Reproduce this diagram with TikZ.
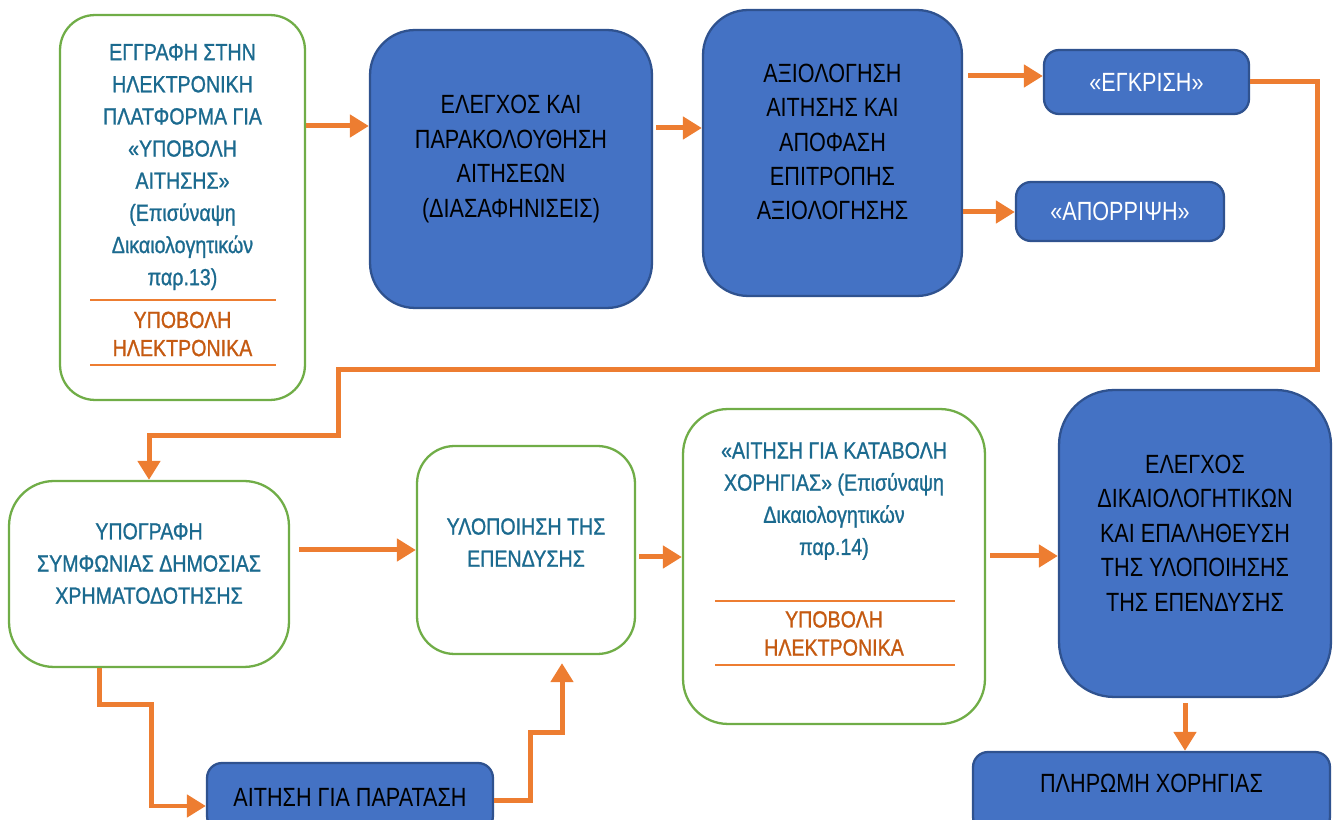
\documentclass[tikz,border=0pt]{standalone}
\usepackage{fontspec}
\setmainfont{Liberation Sans}[FakeStretch=0.82]
\newfontfamily\prasinofont{Liberation Sans}[FakeStretch=0.84, FakeBold=1]
\usetikzlibrary{arrows.meta}

\definecolor{prasino}{HTML}{70AD47}
\definecolor{mple}{HTML}{4472C4}
\definecolor{skouro}{HTML}{2F528F}
\definecolor{portokali}{HTML}{ED7D31}
\definecolor{keimeno}{HTML}{1B6A8F}
\definecolor{kafe}{HTML}{C55A11}

\begin{document}
\begin{tikzpicture}[%
x=0.02cm, y=-0.02cm,
>={Triangle[length=0.38cm,width=0.44cm]},
prasino kouti/.style={draw=prasino, line width=1.3pt, fill=white, rounded corners=0.7cm, inner sep=0pt},
mple kouti/.style={draw=skouro, line width=1.3pt, fill=mple, rounded corners=0.9cm, inner sep=0pt},
mikro/.style={mple kouti, rounded corners=0.3cm},
keim/.style={align=center, text=keimeno, font=\prasinofont\fontsize{13.3}{18.3}\selectfont},
ypovoli/.style={align=center, text=kafe, font=\prasinofont\fontsize{13.3}{16}\selectfont},
mavro/.style={align=center, font=\fontsize{15}{19.6}\selectfont},
leuko/.style={mavro, text=white},
grammi/.style={draw=portokali, line width=0.8pt},
velos/.style={->, draw=portokali, line width=0.1cm},
]

\useasboundingbox (0,0) rectangle (1333,820);

% pano seira
\node[prasino kouti, minimum width=4.9cm, minimum height=7.7cm] (egrafi) at (182.5,207.5){};
\node[keim] (egrafi-t) at (182.5,167){ΕΓΓΡΑΦΗ ΣΤΗΝ\\ΗΛΕΚΤΡΟΝΙΚΗ\\ΠΛΑΤΦΟΡΜΑ ΓΙΑ\\«ΥΠΟΒΟΛΗ\\ΑΙΤΗΣΗΣ»\\(Επισύναψη\\Δικαιολογητικών\\παρ.13)};
\node[ypovoli] (egrafi-y) at (182.5,334){ΥΠΟΒΟΛΗ\\ΗΛΕΚΤΡΟΝΙΚΑ};
\draw[grammi] (90,300) -- (276,300);
\draw[grammi] (90,365) -- (276,365);

\node[mple kouti, minimum width=5.64cm, minimum height=5.56cm] (elegxos) at (511,169){};
\node[mavro] (elegxos-t) at (511,159){ΕΛΕΓΧΟΣ ΚΑΙ\\ΠΑΡΑΚΟΛΟΥΘΗΣΗ\\ΑΙΤΗΣΕΩΝ\\(ΔΙΑΣΑΦΗΝΙΣΕΙΣ)};

\node[mple kouti, minimum width=5.18cm, minimum height=5.72cm] (axiologisi) at (832.5,153){};
\node[mavro] (axiologisi-t) at (832.5,142){ΑΞΙΟΛΟΓΗΣΗ\\ΑΙΤΗΣΗΣ ΚΑΙ\\ΑΠΟΦΑΣΗ\\ΕΠΙΤΡΟΠΗΣ\\ΑΞΙΟΛΟΓΗΣΗΣ};

\node[mikro, leuko, minimum width=4.1cm, minimum height=1.28cm] (egkrisi) at (1146.5,82){«ΕΓΚΡΙΣΗ»};
\node[mikro, leuko, minimum width=4.16cm, minimum height=1.18cm] (aporripsi) at (1120,211.5){«ΑΠΟΡΡΙΨΗ»};

% kato seira
\node[prasino kouti, rounded corners=0.9cm, minimum width=5.6cm, minimum height=3.72cm] (ypografi) at (149,574){};
\node[keim] (ypografi-t) at (149,563.5){ΥΠΟΓΡΑΦΗ\\ΣΥΜΦΩΝΙΑΣ ΔΗΜΟΣΙΑΣ\\ΧΡΗΜΑΤΟΔΟΤΗΣΗΣ};

\node[prasino kouti, rounded corners=0.75cm, minimum width=4.36cm, minimum height=4.16cm] (ylopoiisi) at (526,550){};
\node[keim] (ylopoiisi-t) at (526,542.5){ΥΛΟΠΟΙΗΣΗ ΤΗΣ\\ΕΠΕΝΔΥΣΗΣ};

\node[prasino kouti, rounded corners=0.9cm, minimum width=6.04cm, minimum height=6.3cm] (katavoli) at (834,566.5){};
\node[keim] (katavoli-t) at (834,501){«ΑΙΤΗΣΗ ΓΙΑ ΚΑΤΑΒΟΛΗ\\ΧΟΡΗΓΙΑΣ» (Επισύναψη\\Δικαιολογητικών\\παρ.14)};
\node[ypovoli] (katavoli-y) at (834,633.5){ΥΠΟΒΟΛΗ\\ΗΛΕΚΤΡΟΝΙΚΑ};
\draw[grammi] (715,601) -- (955,601);
\draw[grammi] (715,665) -- (955,665);

\node[mple kouti, rounded corners=1.1cm, minimum width=5.44cm, minimum height=6.14cm] (epalitheusi) at (1195,543.5){};
\node[mavro] (epalitheusi-t) at (1195,533){ΕΛΕΓΧΟΣ\\ΔΙΚΑΙΟΛΟΓΗΤΙΚΩΝ\\ΚΑΙ ΕΠΑΛΗΘΕΥΣΗ\\ΤΗΣ ΥΛΟΠΟΙΗΣΗΣ\\ΤΗΣ ΕΠΕΝΔΥΣΗΣ};

\node[mikro, minimum width=7.14cm, minimum height=1.6cm] (pliromi) at (1151.5,792){};
\node[mavro] (pliromi-t) at (1151.5,783){ΠΛΗΡΩΜΗ ΧΟΡΗΓΙΑΣ};

\node[mikro, mavro, minimum width=5.72cm, minimum height=1.36cm] (paratasi) at (350,797){ΑΙΤΗΣΗ ΓΙΑ ΠΑΡΑΤΑΣΗ};

% velh
\draw[velos] (egrafi.east |- 0,126) -- (elegxos.west |- 0,126);
\draw[velos, shorten <=0.06cm] (elegxos.east |- 0,128) -- (axiologisi.west |- 0,128);
\draw[velos, shorten <=0.1cm] (axiologisi.east |- 0,76) -- (egkrisi.west |- 0,76);
\draw[velos] (axiologisi.east |- 0,212) -- (aporripsi.west |- 0,212);
\draw[velos] (egkrisi.east) -| (1317,370) -- (338,370) |- (ypografi.north |- 0,436) -- (ypografi.north);

\draw[velos, shorten <=0.18cm] (ypografi.east |- 0,550) -- (ylopoiisi.west |- 0,550);
\draw[velos, shorten <=0.06cm] (ylopoiisi.east |- 0,557) -- (katavoli.west |- 0,557);
\draw[velos, shorten <=0.08cm] (katavoli.east |- 0,556) -- (epalitheusi.west |- 0,556);
\draw[velos, shorten <=0.1cm] (epalitheusi.south -| 1185,0) -- (pliromi.north -| 1185,0);

\draw[velos] (ypografi.south -| 99,0) -- (99,705) -| (151,806) -- (paratasi.west |- 0,806);
\draw[velos, shorten >=0.16cm] (paratasi.east |- 0,801) -- (530,801) |- (562,733) -- (ylopoiisi.south -| 562,0);

\end{tikzpicture}
\end{document}
